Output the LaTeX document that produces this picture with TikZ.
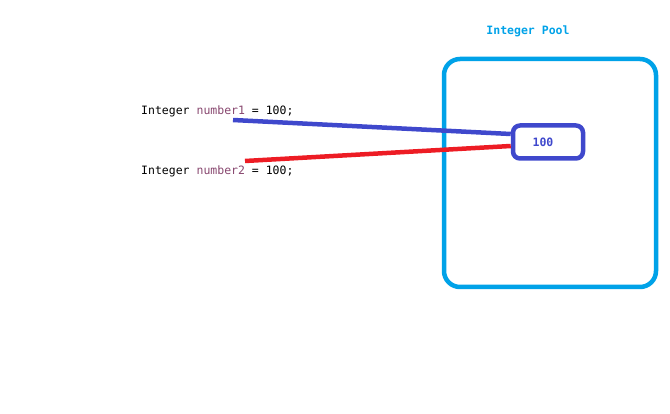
\documentclass[tikz,border=0pt]{standalone}
\usepackage{fontspec}
\setmonofont{DejaVu Sans Mono}
\definecolor{poolblue}{RGB}{0,162,232}
\definecolor{indigo}{RGB}{63,72,204}
\definecolor{pred}{RGB}{237,28,36}
\definecolor{varcol}{RGB}{135,70,110}
\begin{document}
\begin{tikzpicture}[x=1pt,y=-1pt,
  code/.style={font=\ttfamily\fontsize{11.5}{13}\selectfont, anchor=west, inner sep=0},
  pool/.style={draw=poolblue, line width=4.5pt, rounded corners=16pt},
  valbox/.style={draw=indigo, line width=4.5pt, rounded corners=7pt, minimum width=70pt, minimum height=33pt, inner sep=0},
  valtext/.style={font=\ttfamily\bfseries\fontsize{11.5}{13}\selectfont, text=indigo, inner sep=0},
  ref/.style={line width=4.5pt}]
\useasboundingbox (0,0) rectangle (670,414);
\node[pool, minimum width=212pt, minimum height=228pt] (pool) at (550,173) {};
\node[font=\ttfamily\bfseries\fontsize{11.5}{13}\selectfont, text=poolblue] (title) at (528,31) {Integer Pool};
\node[valbox] (val) at (548,142) {};
\node[valtext] (valt) at (543,142) {100};
\node[code] (l1) at (141,111) {Integer \textcolor{varcol}{number1} = 100;};
\node[code] (l2) at (141,171) {Integer \textcolor{varcol}{number2} = 100;};
\coordinate (b0) at (233,120);
\coordinate (r0) at (245,161);
\draw[ref, indigo] (b0) -- (val.west |- 0,134);
\draw[ref, pred] (r0) -- (val.west |- 0,146);
\end{tikzpicture}
\end{document}
